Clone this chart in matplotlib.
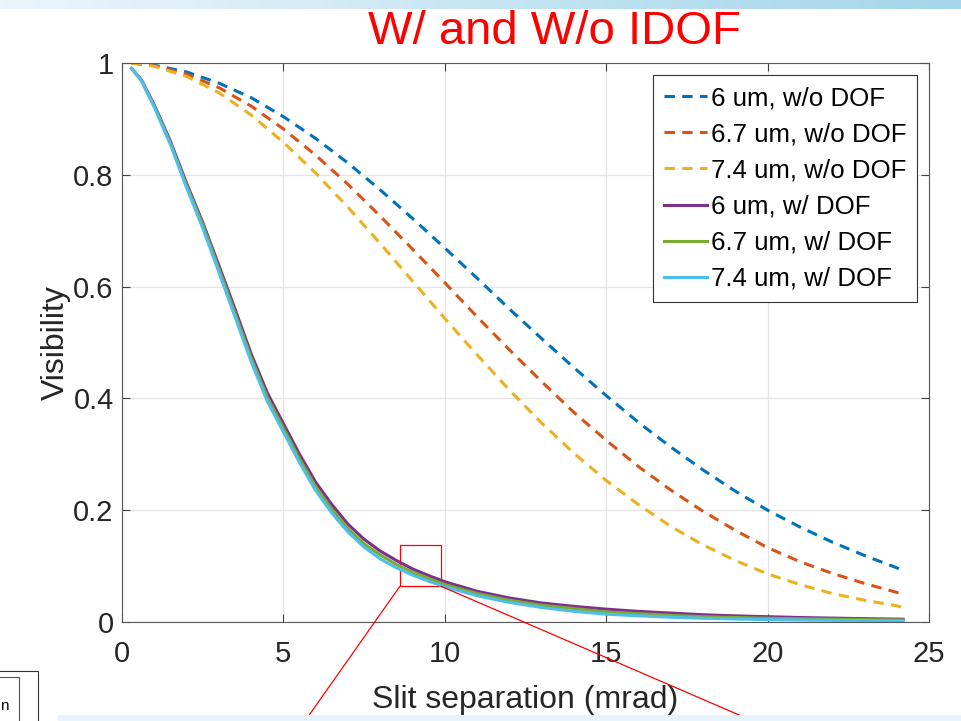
import matplotlib
matplotlib.use('Agg')
import matplotlib.pyplot as plt
import numpy as np
from matplotlib.patches import Rectangle, ConnectionPatch
from matplotlib.colors import LinearSegmentedColormap

# Slit separation (mrad) for the curves without depth of field
x_sans = [0.3, 1, 2, 3, 4, 5, 6, 7, 8, 9, 10, 11, 12, 13, 14, 15, 16, 17, 18, 19,
          20, 21, 22, 23, 24, 24.2]
vis_6_sans = [1.0, 0.996, 0.984, 0.964, 0.938, 0.904, 0.865, 0.821, 0.773, 0.722,
              0.669, 0.615, 0.560, 0.507, 0.455, 0.405, 0.357, 0.313, 0.272, 0.234,
              0.200, 0.170, 0.143, 0.119, 0.097, 0.091]
vis_67_sans = [1.0, 0.995, 0.980, 0.956, 0.923, 0.882, 0.835, 0.783, 0.726, 0.667,
               0.607, 0.546, 0.487, 0.430, 0.375, 0.325, 0.278, 0.236, 0.198, 0.164,
               0.133, 0.108, 0.087, 0.069, 0.053, 0.050]
vis_74_sans = [1.0, 0.994, 0.976, 0.947, 0.907, 0.858, 0.803, 0.742, 0.677, 0.610,
               0.543, 0.478, 0.415, 0.356, 0.302, 0.253, 0.210, 0.171, 0.138, 0.110,
               0.086, 0.067, 0.051, 0.039, 0.029, 0.026]

# Slit separation (mrad) for the curves with depth of field
x_avec = [0.3, 0.6, 1, 1.5, 2, 2.5, 3, 3.5, 4, 4.5, 5, 5.5, 6, 6.5, 7, 7.5, 8, 8.5,
          9, 9.5, 10, 11, 12, 13, 14, 15, 16, 17, 18, 19, 20, 21, 22, 23, 24.2]
vis_6_avec = [0.99, 0.97, 0.925, 0.86, 0.785, 0.715, 0.638, 0.56, 0.48, 0.41, 0.355,
              0.30, 0.25, 0.21, 0.175, 0.148, 0.127, 0.11, 0.095, 0.083, 0.072, 0.055,
              0.043, 0.034, 0.028, 0.023, 0.019, 0.016, 0.013, 0.011, 0.0095, 0.008,
              0.007, 0.006, 0.005]
vis_67_avec = [0.99, 0.969, 0.923, 0.857, 0.781, 0.711, 0.632, 0.553, 0.473, 0.402,
               0.347, 0.292, 0.242, 0.202, 0.167, 0.14, 0.12, 0.103, 0.089, 0.078,
               0.067, 0.051, 0.039, 0.03, 0.024, 0.018, 0.015, 0.012, 0.0095, 0.008,
               0.0068, 0.0058, 0.005, 0.0043, 0.0036]
vis_74_avec = [0.99, 0.968, 0.921, 0.854, 0.777, 0.705, 0.626, 0.546, 0.466, 0.395,
               0.34, 0.285, 0.235, 0.195, 0.161, 0.134, 0.113, 0.097, 0.084, 0.073,
               0.063, 0.047, 0.035, 0.026, 0.019, 0.014, 0.011, 0.0085, 0.0067, 0.0053,
               0.0043, 0.0036, 0.003, 0.0025, 0.002]

labels_sans = ['6 um, w/o DOF', '6.7 um, w/o DOF', '7.4 um, w/o DOF']
labels_avec = ['6 um, w/ DOF', '6.7 um, w/ DOF', '7.4 um, w/ DOF']
couleurs_sans = ['#0072BD', '#D95319', '#EDB120']
couleurs_avec = ['#7E2F8E', '#77AC30', '#4DBEEE']

plt.rcParams['font.family'] = ['Liberation Sans', 'DejaVu Sans']

fig = plt.figure(figsize=(9.61, 7.21), dpi=100)

# bandes bleues de la diapo (haut et bas)
bande = fig.add_axes([0, 1 - 9 / 721, 1, 9 / 721])
degrade = np.linspace(0, 1, 256).reshape(1, -1)
cmap_bande = LinearSegmentedColormap.from_list('b', ['#EAF5FB', '#D5EBF6', '#B9E0F0', '#A6D6EA'])
bande.imshow(degrade, aspect='auto', cmap=cmap_bande)
bande.axis('off')
fig.patches.append(Rectangle((58 / 961, 0), 1, 6 / 721, transform=fig.transFigure,
                             facecolor='#E6F3FA', edgecolor='none'))

# morceaux de cadre en bas a gauche
fig.patches.append(Rectangle((-0.01, -0.01), 0.01 + 37.7 / 961, 0.01 + 50 / 721,
                             transform=fig.transFigure, facecolor='none',
                             edgecolor='#333333', lw=0.8))
fig.patches.append(Rectangle((-0.01, -0.01), 0.01 + 19.3 / 961, 0.01 + 44 / 721,
                             transform=fig.transFigure, facecolor='none',
                             edgecolor='#555555', lw=0.8))
fig.text(0.5 / 961, 1 - 706 / 721, 'n', fontsize=11, va='center', ha='left')

ax = fig.add_axes([122 / 961, 1 - 622 / 721, 807 / 961, 559 / 721])

for y, lab, c in zip([vis_6_sans, vis_67_sans, vis_74_sans], labels_sans, couleurs_sans):
    ax.plot(x_sans, y, color=c, lw=2.2, dashes=(3.4, 2.4), label=lab)
for y, lab, c in zip([vis_6_avec, vis_67_avec, vis_74_avec], labels_avec, couleurs_avec):
    ax.plot(x_avec, y, color=c, lw=2.2, label=lab)

ax.set_xlim(0, 25)
ax.set_ylim(0, 1)
ax.set_xticks([0, 5, 10, 15, 20, 25])
ax.set_yticks([0, 0.2, 0.4, 0.6, 0.8, 1])
ax.set_yticklabels(['0', '0.2', '0.4', '0.6', '0.8', '1'])
ax.grid(True, color='#E3E3E3', lw=0.9)
ax.set_axisbelow(True)
ax.tick_params(direction='in', length=6, width=0.8, colors='#404040',
               labelcolor='#262626', labelsize=21, top=True, right=True)
ax.tick_params(axis='x', pad=13)
ax.tick_params(axis='y', pad=6)
for s in ax.spines.values():
    s.set_color('#555555')
    s.set_linewidth(0.8)

ax.set_xlabel('Slit separation (mrad)', fontsize=23, color='#262626', labelpad=12.5)
ax.set_ylabel('Visibility', fontsize=23, color='#262626', labelpad=2)

leg = ax.legend(loc='upper right', bbox_to_anchor=(0.985, 0.978), borderaxespad=0,
                fontsize=18.6, handlelength=1.65, handletextpad=0.15, labelspacing=0.47,
                borderpad=0.42, fancybox=False, framealpha=1, edgecolor='#333333')
leg.get_frame().set_linewidth(0.8)

# cadre rouge de zoom et lignes vers l'encart
x0, x1, y0, y1 = 8.61, 9.88, 0.064, 0.138
ax.add_patch(Rectangle((x0, y0), x1 - x0, y1 - y0, facecolor='none', edgecolor='red', lw=0.9))
for xa, xf in [(x0, 305 / 961), (x1, 753 / 961)]:
    con = ConnectionPatch(xyA=(xa, y0), coordsA=ax.transData, xyB=(xf, 0),
                          coordsB=fig.transFigure, color='red', lw=0.9)
    fig.add_artist(con)

fig.text(554 / 961, 1 - 32 / 721, 'W/ and W/o IDOF', color='red', fontsize=34,
         ha='center', va='center')

plt.savefig('out.png', dpi=100)
